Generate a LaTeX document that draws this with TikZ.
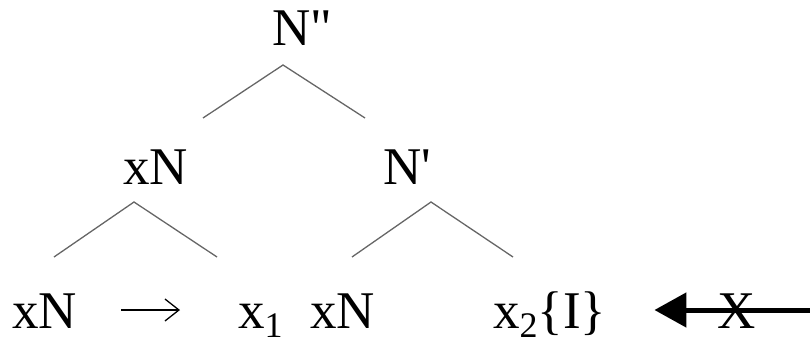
\documentclass[tikz,border=0pt]{standalone}
\usepackage{fontspec}
\setmainfont{Liberation Serif}
\usetikzlibrary{arrows.meta}

\newcommand{\lowsub}[1]{\raisebox{-9pt}{\fontsize{36}{40}\selectfont #1}}

\begin{document}
\begin{tikzpicture}[
    x=1pt, y=-1pt,
    every node/.style={font=\fontsize{53}{60}\selectfont},
    lbl/.style={anchor=base west, inner sep=0pt},
    branch/.style={line width=1.3pt, draw=black!60},
    smallarr/.style={-{Straight Barb[length=14pt, width=22pt, line width=1.3pt]}, line width=2.6pt},
    bigarr/.style={-{Triangle[length=32pt, width=34pt]}, line width=5pt}
]
\useasboundingbox (0,0) rectangle (810,342);
\node[lbl] (top) at (272,46) {N\textquotedbl};
\node[lbl] (xnmid) at (123,184) {xN};
\node[lbl] (nbar) at (383,184) {N\textquotesingle};
\node[lbl] (xnleft) at (12,328) {xN};
\node[lbl] (xa) at (238,328) {x\lowsub{1}};
\node[lbl] (xnright) at (310,328) {xN};
\node[lbl] (xb) at (493,328) {x\lowsub{2}\{I\}};
\node[lbl] (bigx) at (717,328) {X};
\coordinate (top-a) at (283,65);
\coordinate (top-l) at (203,118);
\coordinate (top-r) at (365,118);
\coordinate (mid-a) at (134,202);
\coordinate (mid-l) at (54,257);
\coordinate (mid-r) at (217,257);
\coordinate (bar-a) at (431,202);
\coordinate (bar-l) at (352,257);
\coordinate (bar-r) at (513,257);
\coordinate (row) at (0,310);
\coordinate (edge) at (810,310);
\draw[branch] (top-l) -- (top-a) -- (top-r);
\draw[branch] (mid-l) -- (mid-a) -- (mid-r);
\draw[branch] (bar-l) -- (bar-a) -- (bar-r);
\draw[smallarr, shorten <=44pt, shorten >=58pt] (xnleft.east |- row) -- (xa.west |- row);
\draw[bigarr, shorten >=48pt] (edge) -- (xb.east |- row);
\end{tikzpicture}
\end{document}
